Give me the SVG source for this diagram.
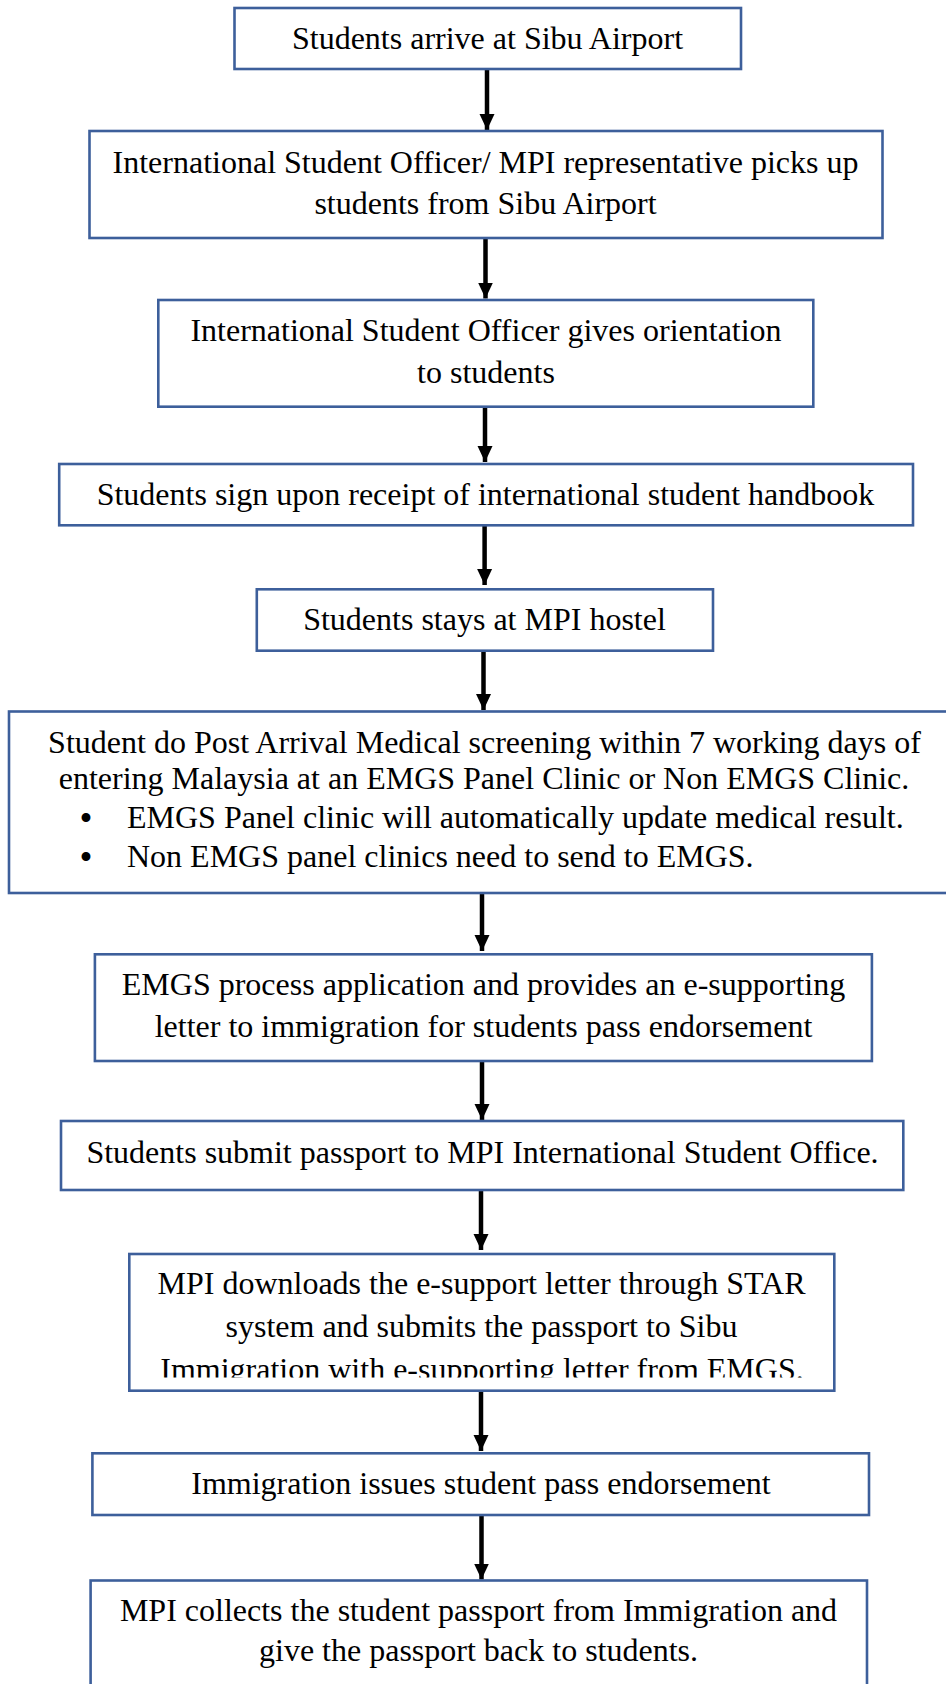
<svg xmlns="http://www.w3.org/2000/svg" width="946" height="1684" viewBox="0 0 946 1684">
<style>
.box{fill:#ffffff;stroke:#3d5f9b;stroke-width:2.6}
.t{font-family:"Liberation Serif","Times New Roman",serif;font-size:32px;fill:#000;text-anchor:middle}
.tl{font-family:"Liberation Serif","Times New Roman",serif;font-size:32px;fill:#000;text-anchor:start}
.bul{font-family:"Liberation Serif","Times New Roman",serif;font-size:37px;fill:#000;text-anchor:middle}
.conn line{stroke:#000;stroke-width:4.5;marker-end:url(#ah)}
</style>
<defs>
<marker id="ah" markerUnits="userSpaceOnUse" markerWidth="16" markerHeight="16" viewBox="0 0 16 16" refX="16" refY="8" orient="auto">
<path d="M0,0.5 L16,8 L0,15.5 z" fill="#000"/>
</marker>
<clipPath id="clip9"><rect x="129" y="1254" width="706" height="123.5"/></clipPath>
</defs>
<rect x="0" y="0" width="946" height="1684" fill="#ffffff"/>
<g id="connectors" class="conn">
<line x1="487" y1="69" x2="487" y2="130"/>
<line x1="485.5" y1="238" x2="485.5" y2="298.5"/>
<line x1="485" y1="402" x2="485" y2="462"/>
<line x1="484.6" y1="525" x2="484.6" y2="585"/>
<line x1="483.5" y1="651" x2="483.5" y2="710"/>
<line x1="482" y1="893" x2="482" y2="951"/>
<line x1="482" y1="1061" x2="482" y2="1120"/>
<line x1="481" y1="1190" x2="481" y2="1250"/>
<line x1="481" y1="1391" x2="481" y2="1451"/>
<line x1="481.5" y1="1515" x2="481.5" y2="1579.5"/>
</g>
<g id="n1">
<rect class="box" x="234.5" y="8" width="506.5" height="61"/>
<text class="t" x="487.5" y="49.3">Students arrive at Sibu Airport</text>
</g>
<g id="n2">
<rect class="box" x="89.5" y="131" width="793" height="107"/>
<text class="t" x="485.5" y="173">International Student Officer/ MPI representative picks up</text>
<text class="t" x="485.5" y="213.5">students from Sibu Airport</text>
</g>
<g id="n3">
<rect class="box" x="158.3" y="300" width="655" height="106.7"/>
<text class="t" x="486" y="340.7">International Student Officer gives orientation</text>
<text class="t" x="486" y="382.7">to students</text>
</g>
<g id="n4">
<rect class="box" x="59.2" y="464" width="853.8" height="61.3"/>
<text class="t" x="485.5" y="505">Students sign upon receipt of international student handbook</text>
</g>
<g id="n5">
<rect class="box" x="256.8" y="589.3" width="456.2" height="61.4"/>
<text class="t" x="484.5" y="630">Students stays at MPI hostel</text>
</g>
<g id="n6">
<rect class="box" x="9" y="711.5" width="1000" height="181.5"/>
<text class="t" x="484.5" y="753">Student do Post Arrival Medical screening within 7 working days of</text>
<text class="t" x="484" y="789">entering Malaysia at an EMGS Panel Clinic or Non EMGS Clinic.</text>
<text class="bul" x="86" y="830.5">•</text>
<text class="tl" x="127" y="828">EMGS Panel clinic will automatically update medical result.</text>
<text class="bul" x="86" y="869.5">•</text>
<text class="tl" x="127" y="867">Non EMGS panel clinics need to send to EMGS.</text>
</g>
<g id="n7">
<rect class="box" x="94.9" y="954.3" width="777" height="106.7"/>
<text class="t" x="483.5" y="995">EMGS process application and provides an e-supporting</text>
<text class="t" x="483.5" y="1036.7">letter to immigration for students pass endorsement</text>
</g>
<g id="n8">
<rect class="box" x="61" y="1121" width="842.3" height="69"/>
<text class="t" x="482.5" y="1162.7">Students submit passport to MPI International Student Office.</text>
</g>
<g id="n9">
<rect class="box" x="129.3" y="1254" width="705" height="136.7"/>
<g clip-path="url(#clip9)">
<text class="t" x="481.5" y="1294.3">MPI downloads the e-support letter through STAR</text>
<text class="t" x="481.5" y="1336.7">system and submits the passport to Sibu</text>
<text class="t" x="482" y="1379.5">Immigration with e-supporting letter from EMGS.</text>
</g>
</g>
<g id="n10">
<rect class="box" x="92.4" y="1453.3" width="776.6" height="61.7"/>
<text class="t" x="481" y="1494">Immigration issues student pass endorsement</text>
</g>
<g id="n11">
<rect class="box" x="90.6" y="1580.5" width="776.4" height="200"/>
<text class="t" x="478.5" y="1620.5">MPI collects the student passport from Immigration and</text>
<text class="t" x="478.5" y="1661">give the passport back to students.</text>
</g>
</svg>
